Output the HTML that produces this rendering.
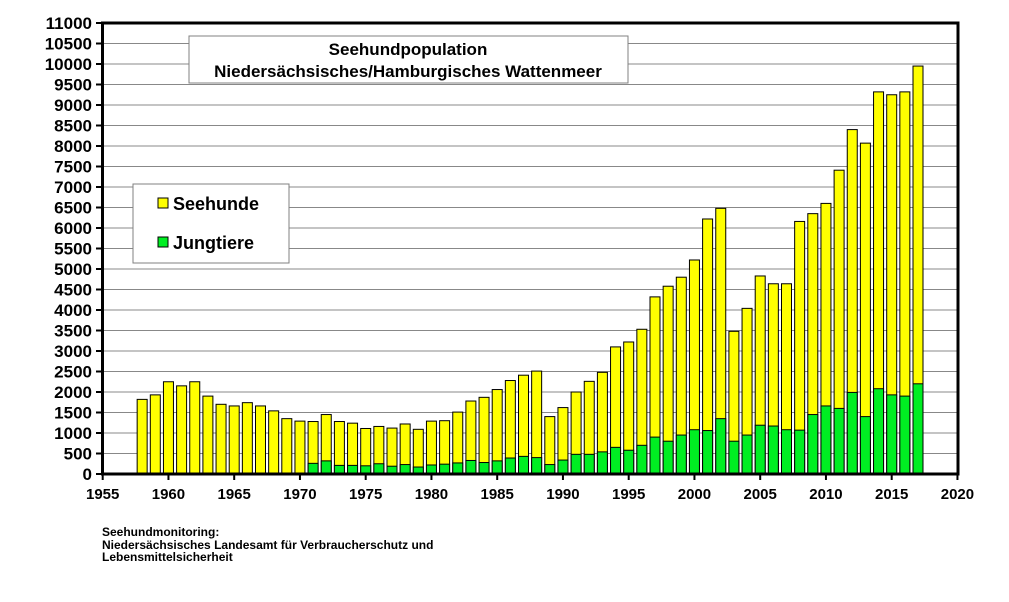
<!DOCTYPE html>
<html><head><meta charset="utf-8"><style>
body{margin:0;background:#fff;}
svg{display:block;font-family:"Liberation Sans",Arial,sans-serif;font-weight:bold;}
</style></head><body>
<svg id="c" width="1009" height="602" viewBox="0 0 1009 602" xmlns="http://www.w3.org/2000/svg">
<rect width="1009" height="602" fill="#fff"/>
<g id="grid"></g>
<g id="bars"></g>
<rect x="102.5" y="23" width="855.5" height="451" fill="none" stroke="#000" stroke-width="3"/>
<g id="ticks"></g>
<rect x="189" y="36" width="439" height="47" fill="#fff" stroke="#808080" stroke-width="1"/>
<text x="408" y="55" font-size="17" text-anchor="middle">Seehundpopulation</text>
<text x="408" y="77" font-size="17" text-anchor="middle">Niedersächsisches/Hamburgisches Wattenmeer</text>
<rect x="133" y="184" width="156" height="79" fill="#fff" stroke="#808080" stroke-width="1"/>
<rect x="158" y="198" width="10" height="10" fill="#ffff00" stroke="#000"/>
<text x="173" y="210" font-size="18">Seehunde</text>
<rect x="158" y="237" width="10" height="10" fill="#00ee22" stroke="#000"/>
<text x="173" y="249" font-size="18">Jungtiere</text>
<text x="102" y="536" font-size="12">Seehundmonitoring:</text>
<text x="102" y="549" font-size="12">Niedersächsisches Landesamt für Verbraucherschutz und</text>
<text x="102" y="561" font-size="12">Lebensmittelsicherheit</text>
</svg>
<script>
var ns="http://www.w3.org/2000/svg";
function el(p,t,a,txt){var e=document.createElementNS(ns,t);for(var k in a)e.setAttribute(k,a[k]);if(txt!==undefined)e.textContent=txt;document.getElementById(p).appendChild(e);}
var X0=102.7,DX=13.15,Y0=474,SY=451/11000;
function X(y){return X0+(y-1955)*DX}
function Y(v){return Y0-v*SY}
for(var v=0;v<=11000;v+=500){
 if(v>0&&v<11000) el("grid","line",{x1:102,x2:958,y1:Y(v),y2:Y(v),stroke:"#888","stroke-width":1});
 el("ticks","line",{x1:96,x2:102,y1:Y(v),y2:Y(v),stroke:"#000","stroke-width":2});
 el("ticks","text",{x:92,y:Y(v)+6,"font-size":17,"text-anchor":"end"},String(v));
}
for(var y=1955;y<=2020;y+=5){
 el("ticks","line",{x1:X(y),x2:X(y),y1:474,y2:480,stroke:"#000","stroke-width":2});
 el("ticks","text",{x:X(y),y:499,"font-size":15,"text-anchor":"middle"},String(y));
}
var d={1958:[1820],1959:[1930],1960:[2250],1961:[2150],1962:[2250],1963:[1900],1964:[1700],1965:[1660],1966:[1740],1967:[1660],1968:[1540],1969:[1350],1970:[1290],
1971:[1280,260],1972:[1450,320],1973:[1280,210],1974:[1240,210],1975:[1110,200],1976:[1160,250],1977:[1120,190],1978:[1220,230],1979:[1090,170],1980:[1290,220],
1981:[1300,240],1982:[1510,270],1983:[1780,330],1984:[1870,280],1985:[2060,320],1986:[2280,390],1987:[2410,430],1988:[2510,400],1989:[1400,230],1990:[1620,340],
1991:[2000,480],1992:[2260,480],1993:[2480,540],1994:[3100,650],1995:[3220,580],1996:[3530,700],1997:[4320,900],1998:[4580,800],1999:[4800,950],2000:[5220,1080],
2001:[6220,1060],2002:[6480,1350],2003:[3480,800],2004:[4040,950],2005:[4830,1190],2006:[4640,1170],2007:[4640,1080],2008:[6160,1070],2009:[6350,1450],2010:[6600,1660],
2011:[7410,1600],2012:[8400,1990],2013:[8070,1400],2014:[9320,2080],2015:[9250,1930],2016:[9320,1900],2017:[9950,2200]};
for(var k in d){var yr=+k,t=d[k][0],g=d[k][1]||0,x=X(yr)-5;
 el("bars","rect",{x:x,y:Y(t),width:10,height:t*SY,fill:"#ffff00",stroke:"#000","stroke-width":1});
 if(g) el("bars","rect",{x:x,y:Y(g),width:10,height:g*SY,fill:"#00ee22",stroke:"#000","stroke-width":1});
}
</script>
</body></html>
